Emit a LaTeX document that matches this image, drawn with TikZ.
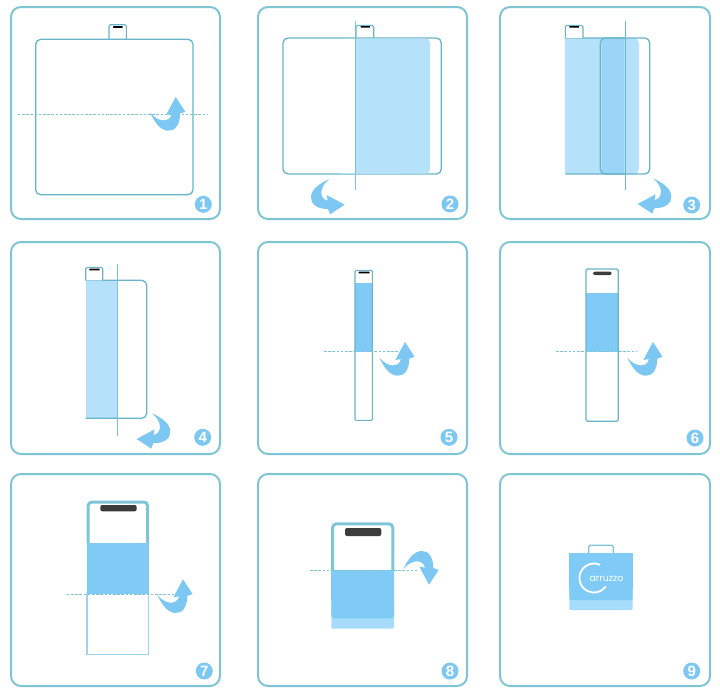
\documentclass[tikz,border=0pt]{standalone}
\usepackage{fontspec}
\setmainfont{Liberation Sans}
\newfontfamily\logofont{Poppins}
\definecolor{frameteal}{HTML}{7EC6D6}
\definecolor{lineteal}{HTML}{68B4C8}
\definecolor{foldline}{HTML}{7FBFD6}
\definecolor{dashteal}{HTML}{7FC4D4}
\definecolor{skyarrow}{HTML}{7CC8F2}
\definecolor{palefill}{HTML}{B6E1FA}
\definecolor{midfill}{HTML}{9AD5F7}
\definecolor{solidfill}{HTML}{7FCBF6}
\definecolor{lowerfill}{HTML}{A6DCF9}
\definecolor{slotdark}{HTML}{3C3C3C}
\tikzset{
  x=1pt, y=-1pt,
  panel/.style={draw=frameteal, line width=2pt, rounded corners=10pt},
  outline/.style={draw=lineteal, line width=1.3pt, rounded corners=5pt},
  tab/.style={draw=lineteal, line width=1.1pt, rounded corners=1.5pt, fill=white},
  slotthin/.style={fill=black, rounded corners=.3pt},
  slotwide/.style={fill=slotdark, rounded corners=2pt},
  foldv/.style={draw=foldline, line width=1.1pt},
  foldh/.style={draw=dashteal, line width=1pt, dash pattern=on 2.6pt off 1.6pt},
  badge/.style={circle, fill=skyarrow, text=white, minimum size=17pt, inner sep=0pt, font=\bfseries\fontsize{15}{15}\selectfont},
  curlup/.style={x={(1pt,0pt)}, y={(0pt,-1pt)}},
  curlover/.style={x={(1pt,0pt)}, y={(0pt,1pt)}},
  curlleft/.style={x={(0pt,-1pt)}, y={(1pt,0pt)}},
  curlright/.style={x={(0pt,-1pt)}, y={(-1pt,0pt)}},
}
% Curled fold arrow, drawn from the tip of its tail
\newcommand{\curlarrow}[2]{%
  \begin{scope}[shift={(#1)}, #2]
    \fill[skyarrow] (0,0) .. controls (5,10) and (10,17.5) .. (18,18)
      .. controls (25,18.5) and (30,12) .. (30,1) -- (35.3,-1) -- (25.7,-15.7)
      -- (16,2.3) -- (21.7,1.3) .. controls (20,9.5) and (9,10.5) .. (0,0) -- cycle;
  \end{scope}}
\begin{document}
\begin{tikzpicture}
\useasboundingbox (0,0) rectangle (720,688);
\fill[white] (0,0) rectangle (720,688);

% Panel frames
\draw[panel] (11,7) rectangle (220,219);
\draw[panel] (258,7) rectangle (467,219);
\draw[panel] (500,7) rectangle (710,219);
\draw[panel] (11,242) rectangle (220,454);
\draw[panel] (258,242) rectangle (467,454);
\draw[panel] (500,242) rectangle (710,454);
\draw[panel] (11,474) rectangle (220,686);
\draw[panel] (258,474) rectangle (467,686);
\draw[panel] (500,474) rectangle (710,686);

% Step 1: flat bag
\draw[tab] (109,39.3) -- (109,24.7) -- (126.3,24.7) -- (126.3,39.3);
\fill[slotthin] (113,26.2) rectangle (122.7,27.8);
\draw[outline] (35.7,39.3) rectangle (193,194.7);
\draw[foldh] (17.7,114.3) -- (207,114.3);
\curlarrow{150,112.7}{curlup}

% Step 2: first half folded
\draw[tab] (356,38) -- (356,25.3) -- (373.7,25.3) -- (373.7,38);
\fill[slotthin] (360.7,26) rectangle (370,27.6);
\draw[outline] (283,38) rectangle (441.3,174);
\fill[palefill, rounded corners=4pt] (340,38.5) rectangle (430,173.5);
\fill[palefill] (340,38.5) rectangle (400,173.5);
\fill[white] (340,39.2) rectangle (355.3,172.8);
\draw[foldv] (355.3,21.3) -- (355.3,190);
\curlarrow{329,179}{curlright}

% Step 3: second fold over the first
\fill[palefill] (565.3,38) rectangle (610,174);
\fill[palefill, rounded corners=5pt] (590,38) rectangle (639,174);
\fill[midfill] (602,39) rectangle (624.3,173);
\draw[outline] (565.3,38) -- (649.7,38) -- (649.7,174) -- (565.3,174);
\draw[tab] (565.3,38) -- (565.3,25.3) -- (583,25.3) -- (583,38);
\fill[slotthin] (569.3,26) rectangle (579,27.6);
\draw[draw=lineteal, line width=1.3pt, rounded corners=5pt] (625.3,38) -- (600.3,38) -- (600.3,174) -- (625.3,174);
\draw[draw=lineteal, line width=1.2pt] (625.3,21.3) -- (625.3,190);
\curlarrow{653.3,178.3}{curlleft}

% Step 4: narrow folded strip
\fill[palefill] (85.7,280.3) rectangle (117.7,418.3);
\draw[outline] (85.7,280.3) -- (146.7,280.3) -- (146.7,418.3) -- (85.7,418.3);
\draw[tab] (85.7,280.3) -- (85.7,267.3) -- (102.7,267.3) -- (102.7,280.3);
\fill[slotthin] (89.3,268.7) rectangle (99.7,270.3);
\draw[foldv] (117.7,264) -- (117.7,436.3);
\curlarrow{152.3,413.3}{curlleft}

% Step 5: strip folded from the bottom
\fill[solidfill] (355,282.7) rectangle (372.3,351.7);
\draw[draw=lineteal, line width=1.1pt, rounded corners=1pt] (355,270.3) rectangle (372.3,420.3);
\fill[slotthin] (358.7,271.7) rectangle (369.7,273.3);
\draw[foldh] (324,351.7) -- (402.7,351.7);
\curlarrow{379.3,357.7}{curlup}

% Step 6: strip, enlarged
\fill[solidfill] (586,292.7) rectangle (618.3,351.7);
\draw[draw=lineteal, line width=1.2pt, rounded corners=1.5pt] (586,269) rectangle (618.3,421.3);
\fill[slotwide] (593,271.7) rectangle (611.7,275);
\draw[foldh] (556,351.7) -- (636.7,351.7);
\curlarrow{627.3,357.7}{curlup}

% Step 7: strip, enlarged again
\draw[draw=lowerfill!80!lineteal, line width=1.2pt] (87,593.7) rectangle (148.7,654.3);
\fill[solidfill] (87,543) rectangle (148.7,593.7);
\draw[draw=frameteal, line width=3pt, rounded corners=4pt] (88,543) -- (88,502) -- (147.7,502) -- (147.7,543);
\fill[slotwide] (100.3,505) rectangle (136.7,511.3);
\draw[foldh] (66.7,594.3) -- (176.7,594.3);
\curlarrow{157.3,595}{curlup}

% Step 8: last fold
\fill[lowerfill, rounded corners=2pt] (331.3,600) rectangle (394,628.7);
\fill[solidfill, rounded corners=3pt] (331.3,570.3) rectangle (394,618.3);
\fill[solidfill] (331.3,570.3) rectangle (394,600);
\draw[draw=frameteal, line width=3pt, rounded corners=4pt] (332.5,570.3) -- (332.5,523.8) -- (392.8,523.8) -- (392.8,570.3);
\fill[slotwide] (345,528) rectangle (381.3,536);
\draw[foldh] (310,570.3) -- (416.7,570.3);
\curlarrow{403.3,569}{curlover}

% Step 9: finished bag with logo
\draw[draw=frameteal, line width=1.2pt, rounded corners=1.5pt] (588.7,553) -- (588.7,545.3) -- (613.3,545.3) -- (613.3,553);
\fill[lowerfill, rounded corners=1pt] (569.3,590) rectangle (632.7,610);
\fill[solidfill, rounded corners=2pt] (569.3,580) rectangle (632.7,600);
\fill[solidfill] (569.3,552.7) rectangle (632.7,590);
\draw[white, line width=1.8pt] (600.1,564.9) arc[start angle=-65, end angle=-324, radius=14.5];
\node[text=white, inner sep=0pt, font=\logofont\fontsize{9.4}{9.4}\selectfont] (logoword) at (606.5,578.5) {arruzzo};

% Step numbers
\node[badge] (num1) at (203.3,204.3) {1};
\node[badge] (num2) at (450,204) {2};
\node[badge] (num3) at (691.7,205) {3};
\node[badge] (num4) at (202.7,437.3) {4};
\node[badge] (num5) at (449,437.3) {5};
\node[badge] (num6) at (695,438) {6};
\node[badge] (num7) at (204.3,671) {7};
\node[badge] (num8) at (450,671) {8};
\node[badge] (num9) at (691.7,671) {9};
\end{tikzpicture}
\end{document}
